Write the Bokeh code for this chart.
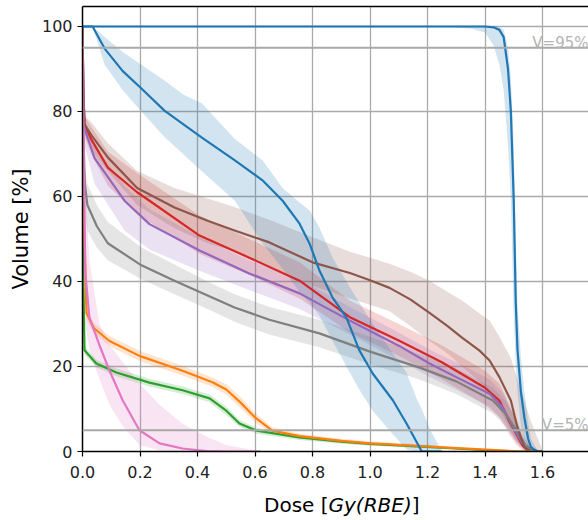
from bokeh.plotting import figure
from bokeh.models import Range1d, LinearAxis, FixedTicker, PrintfTickFormatter, Label, Span, Div
from bokeh.layouts import column
from bokeh.embed import file_html
from bokeh.resources import INLINE

# ---------------- data ----------------
X_TICKS = [0.0, 0.2, 0.4, 0.6, 0.8, 1.0, 1.2, 1.4, 1.6]
Y_TICKS = [0, 20, 40, 60, 80, 100]
X_MAX = 1.76
Y_MAX = 104.7
V_LEVELS = [95, 5]
V_TEXTS = ["V=95%", "V=5%"]
X_LABEL = ("Dose [", "Gy(RBE)", "]")
Y_LABEL = "Volume [%]"

# blue, steep (target-like)
b1_dose = [0, 1.25, 1.35, 1.40, 1.43, 1.45, 1.465, 1.48, 1.49, 1.50, 1.507, 1.513, 1.525, 1.537, 1.55, 1.56, 1.58, 1.6]
b1_mean = [100, 100, 100, 100, 99.8, 99.2, 97.5, 90, 80, 59, 35, 24, 14, 8, 3, 1, 0, 0]
b1_lo   = [100, 100, 99.5, 98.6, 95.5, 91, 85, 72, 59, 32, 20, 14, 6, 3, 1, 0.3, 0, 0]
b1_hi   = [100, 100, 100, 100, 100, 99.8, 99.3, 95, 88, 72, 50, 35, 22, 14, 7, 3, 0.5, 0]

# blue, declining
b2_dose = [0, 0.035, 0.077, 0.14, 0.205, 0.285, 0.35, 0.414, 0.53, 0.626, 0.696, 0.755, 0.79, 0.824,
           0.87, 0.918, 0.963, 1.01, 1.08, 1.127, 1.165, 1.18, 1.21, 1.25]
b2_mean = [100, 100, 94.8, 89.5, 85.4, 80.2, 77, 73.9, 68.5, 63.8, 59, 53.6, 48.9, 42.6,
           36.2, 31.5, 23.8, 18.3, 12, 6.6, 1.9, 0, 0, 0]
b2_lo   = [100, 100, 91, 85, 80, 74, 70, 66, 59, 49, 43, 37.5, 35, 32,
           26, 20, 14.5, 9.5, 4, 0.5, 0, 0, 0, 0]
b2_hi   = [100, 100, 97.5, 94, 91, 87.3, 84, 82, 73.5, 68.5, 62, 58.6, 56.7, 52.7,
           45.6, 40, 35, 30, 23, 18.5, 12, 10, 5, 0]

# brown
br_dose = [0, 0.003, 0.007, 0.03, 0.088, 0.19, 0.32, 0.435, 0.529, 0.65, 0.8, 0.93, 1.0, 1.068, 1.14,
           1.207, 1.27, 1.32, 1.38, 1.416, 1.45, 1.49, 1.513, 1.537, 1.56, 1.6]
br_mean = [100, 85, 77, 74.5, 69.2, 62, 57.4, 54.3, 52, 49.2, 44.5, 42, 40.3, 38.5, 35.8,
           32.6, 29.5, 26.8, 23.8, 21.4, 17.5, 12, 5.6, 1, 0, 0]
br_lo   = [100, 80, 75, 71, 66, 58, 52.5, 49, 47, 43.5, 39, 36, 34.5, 33, 29.5,
           26, 23, 20, 16.5, 14, 10, 5, 2, 0.3, 0, 0]
br_hi   = [100, 90, 79, 77.5, 72.5, 66, 62, 59.5, 57.5, 54.5, 50.4, 47, 45.6, 44.2, 42.3,
           40.2, 37.5, 35.5, 32.5, 30.8, 27, 22, 17, 12, 7, 0.3]

# red
rd_dose = [0, 0.003, 0.007, 0.03, 0.088, 0.19, 0.233, 0.407, 0.58, 0.755, 0.93, 1.10, 1.25, 1.40,
           1.45, 1.485, 1.51, 1.53, 1.55, 1.6]
rd_mean = [100, 85, 77, 73.5, 66.8, 61, 59, 50.8, 45.6, 40.2, 31.6, 26.1, 21, 15,
           12, 7, 4, 1.5, 0.2, 0]
rd_lo   = [100, 80, 74, 70, 62.5, 56, 54, 46.5, 41.5, 36, 28, 22.5, 17, 11,
           8, 4, 1.5, 0.3, 0, 0]
rd_hi   = [100, 90, 79, 76.5, 70.5, 65.5, 63.5, 55.5, 50, 44.5, 35.5, 30, 25, 19,
           16, 11, 7, 3.5, 1, 0]

# purple
pu_dose = [0, 0.003, 0.007, 0.042, 0.146, 0.233, 0.407, 0.58, 0.755, 0.93, 1.10, 1.207, 1.30, 1.416,
           1.46, 1.50, 1.53, 1.56, 1.6]
pu_mean = [100, 85, 76, 69, 59, 53.5, 47.3, 41.9, 37.2, 30.8, 24.9, 20.7, 17.5, 13.6,
           10.5, 5.5, 1.9, 0.3, 0]
pu_lo   = [100, 78, 72, 63, 52, 47.5, 42.5, 38, 33.5, 27.5, 21.5, 17.5, 14.5, 10.5,
           7.5, 3, 0.8, 0, 0]
pu_hi   = [100, 88, 78, 72, 62.5, 57, 50.5, 45, 40.5, 34, 28, 24, 21, 17,
           14, 8.5, 3.5, 1, 0]

# gray
gy_dose = [0, 0.003, 0.008, 0.017, 0.05, 0.088, 0.205, 0.32, 0.435, 0.529, 0.65, 0.824, 1.0, 1.17,
           1.30, 1.427, 1.47, 1.51, 1.54, 1.57, 1.6]
gy_mean = [100, 75, 63, 58, 53, 49, 43.8, 40.2, 36.7, 33.9, 31, 27.8, 23.5, 19.8,
           16.5, 12, 9, 5, 1.5, 0.2, 0]
gy_lo   = [100, 68, 57, 52, 48, 45, 40.5, 37, 33.5, 30.5, 27.5, 24.5, 20.5, 17,
           13.5, 9, 6, 2.5, 0.5, 0, 0]
gy_hi   = [100, 80, 67, 63, 58, 54, 48, 44, 40, 37, 34, 31, 27, 23,
           19.5, 15, 12, 7.5, 3, 0.5, 0]

# orange
or_dose = [0, 0.003, 0.014, 0.04, 0.094, 0.198, 0.348, 0.452, 0.50, 0.55, 0.60, 0.66, 0.755, 0.9,
           1.0, 1.17, 1.3, 1.45, 1.52, 1.6]
or_mean = [100, 60, 32.5, 29, 26, 22.5, 19, 16.3, 14.6, 11.5, 8, 4.9, 3.6, 2.5,
           1.9, 1.3, 0.8, 0.3, 0, 0]
or_lo   = [100, 56, 31, 27.8, 24.8, 21.3, 17.9, 15.2, 13.4, 10.2, 6.9, 4.1, 3, 2,
           1.4, 0.9, 0.5, 0.1, 0, 0]
or_hi   = [100, 64, 34, 30.2, 27.2, 23.7, 20.1, 17.4, 15.8, 12.8, 9.1, 5.7, 4.2, 3,
           2.4, 1.7, 1.1, 0.5, 0.1, 0]

# green
gr_dose = [0, 0.003, 0.007, 0.048, 0.118, 0.233, 0.348, 0.442, 0.5, 0.546, 0.605, 0.755, 0.9, 1.0,
           1.17, 1.3, 1.41, 1.5, 1.6]
gr_mean = [100, 40, 23.8, 20.7, 18.6, 16.2, 14.4, 12.5, 9.6, 6.6, 4.9, 3.3, 2.3, 1.8,
           1.2, 0.7, 0.3, 0, 0]
gr_lo   = [100, 36, 22.8, 19.8, 17.7, 15.3, 13.5, 11.6, 8.6, 5.8, 4.2, 2.7, 1.8, 1.4,
           0.8, 0.4, 0.1, 0, 0]
gr_hi   = [100, 44, 24.8, 21.6, 19.5, 17.1, 15.3, 13.4, 10.6, 7.4, 5.6, 3.9, 2.8, 2.2,
           1.6, 1, 0.5, 0.1, 0]

# pink
pk_dose = [0, 0.004, 0.01, 0.024, 0.059, 0.094, 0.14, 0.198, 0.268, 0.348, 0.43, 0.5, 0.62]
pk_mean = [100, 70, 42, 31.5, 25, 19, 12, 5, 1.9, 0.7, 0.1, 0, 0]
pk_lo   = [100, 50, 30, 24, 17, 11, 6, 1.5, 0.3, 0, 0, 0, 0]
pk_hi   = [100, 90, 62, 45, 30, 25, 21, 16, 11, 6.5, 3.5, 1.5, 0]

# drawing order (last on top)
SERIES = [
    ("#d62728", rd_dose, rd_mean, rd_lo, rd_hi),
    ("#9467bd", pu_dose, pu_mean, pu_lo, pu_hi),
    ("#7f7f7f", gy_dose, gy_mean, gy_lo, gy_hi),
    ("#8c564b", br_dose, br_mean, br_lo, br_hi),
    ("#2ca02c", gr_dose, gr_mean, gr_lo, gr_hi),
    ("#ff7f0e", or_dose, or_mean, or_lo, or_hi),
    ("#e377c2", pk_dose, pk_mean, pk_lo, pk_hi),
    ("#1f77b4", b1_dose, b1_mean, b1_lo, b1_hi),
    ("#1f77b4", b2_dose, b2_mean, b2_lo, b2_hi),
]

# ---------------- figure ----------------
FONT = "DejaVu Sans"
W, H = 588, 493
BORDER_L, BORDER_T, BORDER_B = 82, 6, 42

p = figure(width=W, height=H, x_range=Range1d(0, X_MAX), y_range=Range1d(0, Y_MAX),
           output_backend="svg", toolbar_location=None,
           min_border_left=BORDER_L, min_border_right=0, min_border_top=BORDER_T,
           min_border_bottom=BORDER_B)
p.outline_line_color = None
p.background_fill_color = "white"
p.border_fill_color = "white"

for ax, ticks in ((p.xaxis[0], X_TICKS), (p.yaxis[0], Y_TICKS)):
    ax.ticker = FixedTicker(ticks=ticks)
    ax.axis_line_color = "black"
    ax.axis_line_width = 1.5
    ax.major_tick_line_color = "black"
    ax.major_tick_line_width = 1.2
    ax.major_tick_out = 5
    ax.major_tick_in = 0
    ax.minor_tick_line_color = None
    ax.major_label_text_font = FONT
    ax.major_label_text_font_size = "16px"
    ax.major_label_text_color = "#222222"
    ax.major_label_standoff = 5
p.xaxis[0].formatter = PrintfTickFormatter(format="%.1f")
p.xaxis[0].major_label_standoff = 9

p.yaxis[0].axis_label = Y_LABEL
p.yaxis[0].axis_label_text_font = FONT
p.yaxis[0].axis_label_text_font_size = "21px"
p.yaxis[0].axis_label_text_font_style = "normal"
p.yaxis[0].axis_label_text_color = "black"
p.yaxis[0].axis_label_standoff = 6

top = LinearAxis(ticker=FixedTicker(ticks=[]), axis_line_color="black", axis_line_width=1.5,
                 major_tick_out=0, major_tick_in=0, minor_tick_line_color=None,
                 major_label_text_font_size="0px", major_label_standoff=0)
p.add_layout(top, "above")

for g, ticks in ((p.xgrid[0], X_TICKS), (p.ygrid[0], Y_TICKS)):
    g.ticker = FixedTicker(ticks=ticks)
    g.grid_line_color = "#aaaaaa"
    g.grid_line_width = 1.3

# bands
for color, d, m, lo, hi in SERIES:
    p.varea(x=d, y1=lo, y2=hi, fill_color=color, fill_alpha=0.2)

# reference lines
for lvl, txt in zip(V_LEVELS, V_TEXTS):
    p.add_layout(Span(location=lvl, dimension="width", line_color="#a9a9a9", line_width=2))
    p.add_layout(Label(x=X_MAX, y=lvl + 1.2, text=txt, text_align="right",
                       text_baseline="alphabetic", text_font=FONT, text_font_size="15px",
                       text_color="#b3b3b3"))

# mean lines
for color, d, m, lo, hi in SERIES:
    p.line(d, m, line_color=color, line_width=2.2, line_join="round")

# x-axis label below the plot: "Dose [" + italic "Gy(RBE)" + "]"
xlabel = Div(
    text=(f"<div style=\"font-family:'DejaVu Sans';font-size:20px;line-height:24px;"
          f"color:black;white-space:nowrap;padding-left:264px;\">"
          f"{X_LABEL[0]}<i>{X_LABEL[1]}</i>{X_LABEL[2]}</div>"),
    width=W, height=25, margin=(0, 0, 0, 0))

layout = column(p, xlabel, spacing=0)
open("out.html", "w").write(file_html(layout, INLINE))
